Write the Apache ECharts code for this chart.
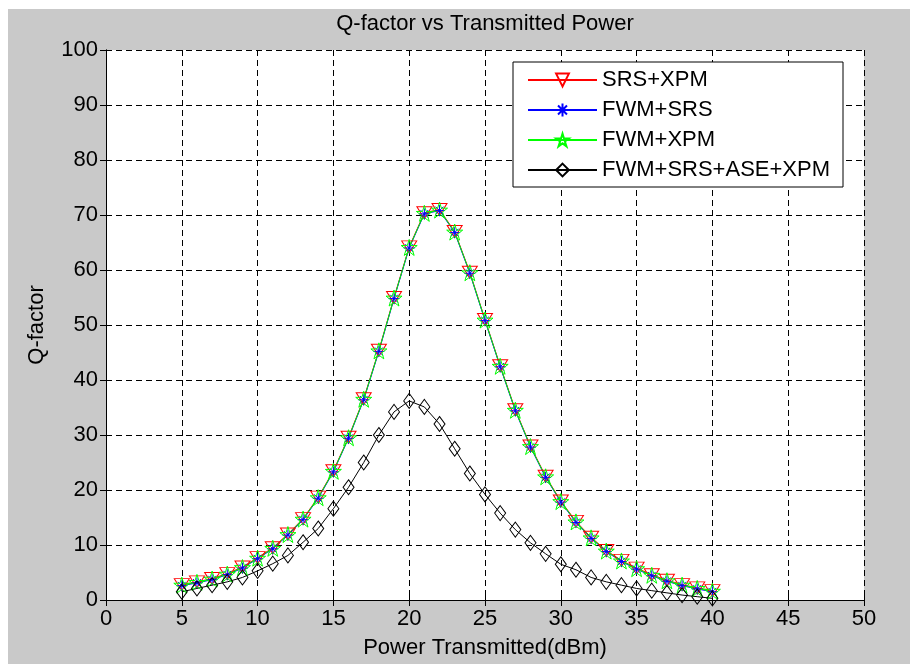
<!DOCTYPE html>
<html>
<head>
<meta charset="utf-8">
<script src="https://cdn.jsdelivr.net/npm/echarts@6/dist/echarts.min.js"></script>
<style>
html,body{margin:0;padding:0;background:#fff;}
#main{width:910px;height:664px;background:linear-gradient(#c9c9c9,#c9c9c9) 8px 9px/902px 655px no-repeat,#fff;}
</style>
</head>
<body>
<div id="main"></div>
<script>
// transmitted power (dBm)
var power = [5,6,7,8,9,10,11,12,13,14,15,16,17,18,19,20,21,22,23,24,25,26,27,28,29,30,31,32,33,34,35,36,37,38,39,40];
// Q-factor
var srsXpm = [2.8,3.3,3.9,4.8,6.0,7.7,9.5,12.0,14.8,18.7,23.5,29.6,36.6,45.4,55.0,64.2,70.4,71.0,67.0,59.6,51.0,42.6,34.6,28.0,22.5,18.0,14.3,11.4,9.0,7.2,5.8,4.6,3.6,2.8,2.2,1.7];
var fwmSrs = [2.6,3.1,3.7,4.6,5.8,7.5,9.3,11.8,14.6,18.5,23.3,29.4,36.4,45.2,54.8,64.0,70.2,70.8,66.8,59.4,50.8,42.4,34.4,27.8,22.3,17.8,14.1,11.2,8.8,7.0,5.6,4.4,3.4,2.6,2.0,1.5];
var fwmXpm = [2.7,3.2,3.8,4.7,5.9,7.6,9.4,11.9,14.7,18.6,23.4,29.5,36.5,45.3,54.9,64.1,70.3,70.9,66.9,59.5,50.9,42.5,34.5,27.9,22.4,17.9,14.2,11.3,8.9,7.1,5.7,4.5,3.5,2.7,2.1,1.6];
var fwmSrsAseXpm = [1.5,2.1,2.7,3.3,4.1,5.3,6.6,8.1,10.5,13.0,16.6,20.5,25.0,30.0,34.2,36.2,35.1,32.0,27.5,23.0,19.2,15.8,12.8,10.4,8.4,6.5,5.5,4.1,3.3,2.7,2.1,1.7,1.3,0.9,0.6,0.3];
var xTicks = [0,50,5];
var yTicks = [0,100,10];

var FONT = "'Liberation Sans', Arial, sans-serif";
var starPath = 'path://M5,0L6.123,3.455L9.755,3.455L6.816,5.59L7.939,9.045L5,6.91L2.061,9.045L3.184,5.59L0.245,3.455L3.877,3.455Z';
var asteriskPath = 'path://M0,5L10,5M5,0L5,10M1.5,1.5L8.5,8.5M8.5,1.5L1.5,8.5';

function pairs(ys) {
  var out = [];
  for (var i = 0; i < power.length; i++) out.push([power[i], ys[i]]);
  return out;
}

function mkSeries(name, ys, color, symbol, size, rotate) {
  return {
    name: name,
    type: 'line',
    data: pairs(ys),
    clip: false,
    symbol: symbol,
    symbolSize: size,
    symbolRotate: rotate || 0,
    showAllSymbol: true,
    lineStyle: { color: color, width: 1 },
    itemStyle: { color: 'rgba(0,0,0,0)', borderColor: color, borderWidth: 1 },
    emphasis: { disabled: true }
  };
}

var chart = echarts.init(document.getElementById('main'));
var axisCommon = {
  axisLine: { show: true, lineStyle: { color: '#000', width: 1 } },
  axisTick: { show: true, inside: true, length: 6, lineStyle: { color: '#000' } }
};
chart.setOption({
  animation: false,
  backgroundColor: 'transparent',
  title: {
    text: 'Q-factor vs Transmitted Power',
    left: 485, top: 13, textAlign: 'center', padding: 0,
    textStyle: { fontFamily: FONT, fontSize: 22, fontWeight: 'normal', color: '#000' }
  },
  grid: { left: 106, right: 46, top: 50, bottom: 59, show: true, backgroundColor: '#fff', borderWidth: 0 },
  legend: {
    orient: 'vertical', left: 513, top: 62,
    backgroundColor: '#fff', borderColor: '#000', borderWidth: 1,
    padding: [7, 13, 6, 14],
    itemWidth: 69, itemHeight: 16, itemGap: 8, itemTextGap: 7,
    textStyle: { fontFamily: FONT, fontSize: 22, color: '#000', lineHeight: 22 },
    data: ['SRS+XPM', 'FWM+SRS', 'FWM+XPM', 'FWM+SRS+ASE+XPM']
  },
  xAxis: [
    Object.assign({
      type: 'value', min: xTicks[0], max: xTicks[1], interval: xTicks[2],
      name: 'Power Transmitted(dBm)', nameLocation: 'middle', nameGap: 37,
      nameTextStyle: { fontFamily: FONT, fontSize: 22, color: '#000' },
      axisLabel: { fontFamily: FONT, fontSize: 22, color: '#000', margin: 8 },
      splitLine: { show: true, lineStyle: { color: '#000', type: [6, 4], width: 1 } }
    }, axisCommon),
    Object.assign({
      type: 'value', position: 'top', min: xTicks[0], max: xTicks[1], interval: xTicks[2],
      axisLabel: { show: false }, splitLine: { show: false }
    }, axisCommon)
  ],
  yAxis: [
    Object.assign({
      type: 'value', min: yTicks[0], max: yTicks[1], interval: yTicks[2],
      name: 'Q-factor', nameLocation: 'middle', nameGap: 58,
      nameTextStyle: { fontFamily: FONT, fontSize: 22, color: '#000' },
      axisLabel: { fontFamily: FONT, fontSize: 22, color: '#000', margin: 8 },
      splitLine: { show: true, lineStyle: { color: '#000', type: [6, 4], width: 1 } }
    }, axisCommon),
    Object.assign({
      type: 'value', position: 'right', min: yTicks[0], max: yTicks[1], interval: yTicks[2],
      axisLabel: { show: false }, splitLine: { show: false }
    }, axisCommon)
  ],
  series: [
    mkSeries('SRS+XPM', srsXpm, '#ff0000', 'triangle', [15, 12], 180),
    mkSeries('FWM+SRS', fwmSrs, '#0000ff', asteriskPath, 11),
    mkSeries('FWM+XPM', fwmXpm, '#00ff00', starPath, 16),
    mkSeries('FWM+SRS+ASE+XPM', fwmSrsAseXpm, '#000000', 'diamond', [11, 15])
  ]
});
</script>
</body>
</html>
